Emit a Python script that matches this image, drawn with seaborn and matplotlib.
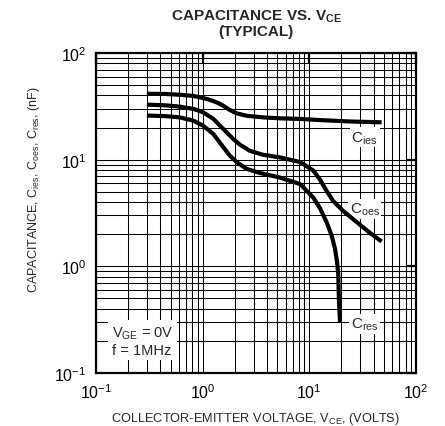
import matplotlib
matplotlib.use('Agg')
import matplotlib.pyplot as plt
import pandas as pd
import seaborn as sns

# values (VCE in volts, capacitance in nF)
vce_ies = [0.30, 0.45, 0.61, 0.80, 0.94, 1.10, 1.26, 1.41, 1.56, 1.80, 2.08, 2.58, 3.70,
           5.30, 8.20, 12.6, 24.0, 47.6]
c_ies = [41.5, 41.3, 40.6, 39.7, 38.5, 37.0, 35.4, 33.8, 32.0, 29.2, 27.2, 25.8, 24.9,
         24.4, 24.1, 23.5, 22.8, 22.4]

vce_oes = [0.30, 0.45, 0.61, 0.82, 1.01, 1.26, 1.56, 1.94, 2.24, 2.77, 3.70, 5.30, 8.20,
           10.9, 12.6, 14.5, 16.7, 20.8, 27.8, 37.0, 47.6]
c_oes = [32.8, 32.3, 31.4, 29.9, 27.8, 24.1, 19.4, 15.6, 13.8, 12.1, 11.1, 10.5, 9.5,
         7.9, 6.5, 5.1, 4.1, 3.3, 2.6, 2.06, 1.71]

vce_res = [0.30, 0.45, 0.61, 0.82, 1.01, 1.26, 1.56, 1.80, 2.08, 2.58, 3.44, 5.30, 8.20,
           10.9, 12.6, 14.5, 16.2, 17.4, 18.2, 18.7, 18.9, 19.4]
c_res = [25.9, 25.6, 24.9, 23.2, 20.8, 17.4, 13.1, 10.9, 9.5, 8.2, 7.5, 6.8, 5.9,
         4.4, 3.5, 2.6, 1.94, 1.46, 1.10, 0.82, 0.50, 0.30]

curve_names = ['ies', 'oes', 'res']
curve_labels = ['C$_{ies}$', 'C$_{oes}$', 'C$_{res}$']
label_pos = [(33, 16.2), (33, 3.45), (33, 0.29)]

df = pd.concat([
    pd.DataFrame({'vce': vce_ies, 'cap': c_ies, 'curve': 'ies'}),
    pd.DataFrame({'vce': vce_oes, 'cap': c_oes, 'curve': 'oes'}),
    pd.DataFrame({'vce': vce_res, 'cap': c_res, 'curve': 'res'}),
])

sns.set_theme(style='white')
plt.rcParams['font.family'] = ['Liberation Sans', 'DejaVu Sans']
plt.rcParams['mathtext.default'] = 'regular'
plt.rcParams['axes.unicode_minus'] = False

fig = plt.figure(figsize=(4.45, 4.27), dpi=100)
ax = fig.add_axes([96 / 445, 1 - 374 / 427, 320 / 445, 320 / 427])

sns.lineplot(data=df, x='vce', y='cap', hue='curve', hue_order=curve_names,
             palette=['black'] * 3, lw=3, sort=False, estimator=None,
             legend=False, ax=ax, zorder=5, solid_capstyle='butt')
ax.set_xscale('log')
ax.set_yscale('log')
ax.set_xlim(0.1, 100)
ax.set_ylim(0.1, 100)

ax.grid(True, which='both', color='black', lw=0.75)
ax.tick_params(which='major', direction='in', length=7, width=1.6, top=True, right=True,
               labelsize=11.5, pad=7, colors='black')
ax.tick_params(which='minor', length=0)
for sp in ax.spines.values():
    sp.set_color('black')
    sp.set_linewidth(1.6)
    sp.set_zorder(6)

for txt, (x, y) in zip(curve_labels, label_pos):
    ax.text(x, y, txt, ha='center', va='center', fontsize=11, zorder=4,
            bbox=dict(fc='white', ec='none', pad=1.2))

ax.text(0.14, 0.2, 'V$_{GE}$ = 0V\nf = 1MHz', ha='left', va='center', fontsize=10.5,
        linespacing=1.15, zorder=4, bbox=dict(fc='white', ec='none', pad=2.5))

ax.set_title('CAPACITANCE VS. V$_{CE}$\n(TYPICAL)', fontsize=11, fontweight='bold',
             linespacing=0.95, pad=13)
ax.set_xlabel('COLLECTOR-EMITTER VOLTAGE, V$_{CE}$, (VOLTS)', fontsize=9.2, labelpad=6)
ax.set_ylabel('CAPACITANCE, C$_{ies}$, C$_{oes}$, C$_{res}$, (nF)', fontsize=9)
ax.yaxis.set_label_coords(-0.168, 0.575)

fig.savefig('out.png', dpi=100)
